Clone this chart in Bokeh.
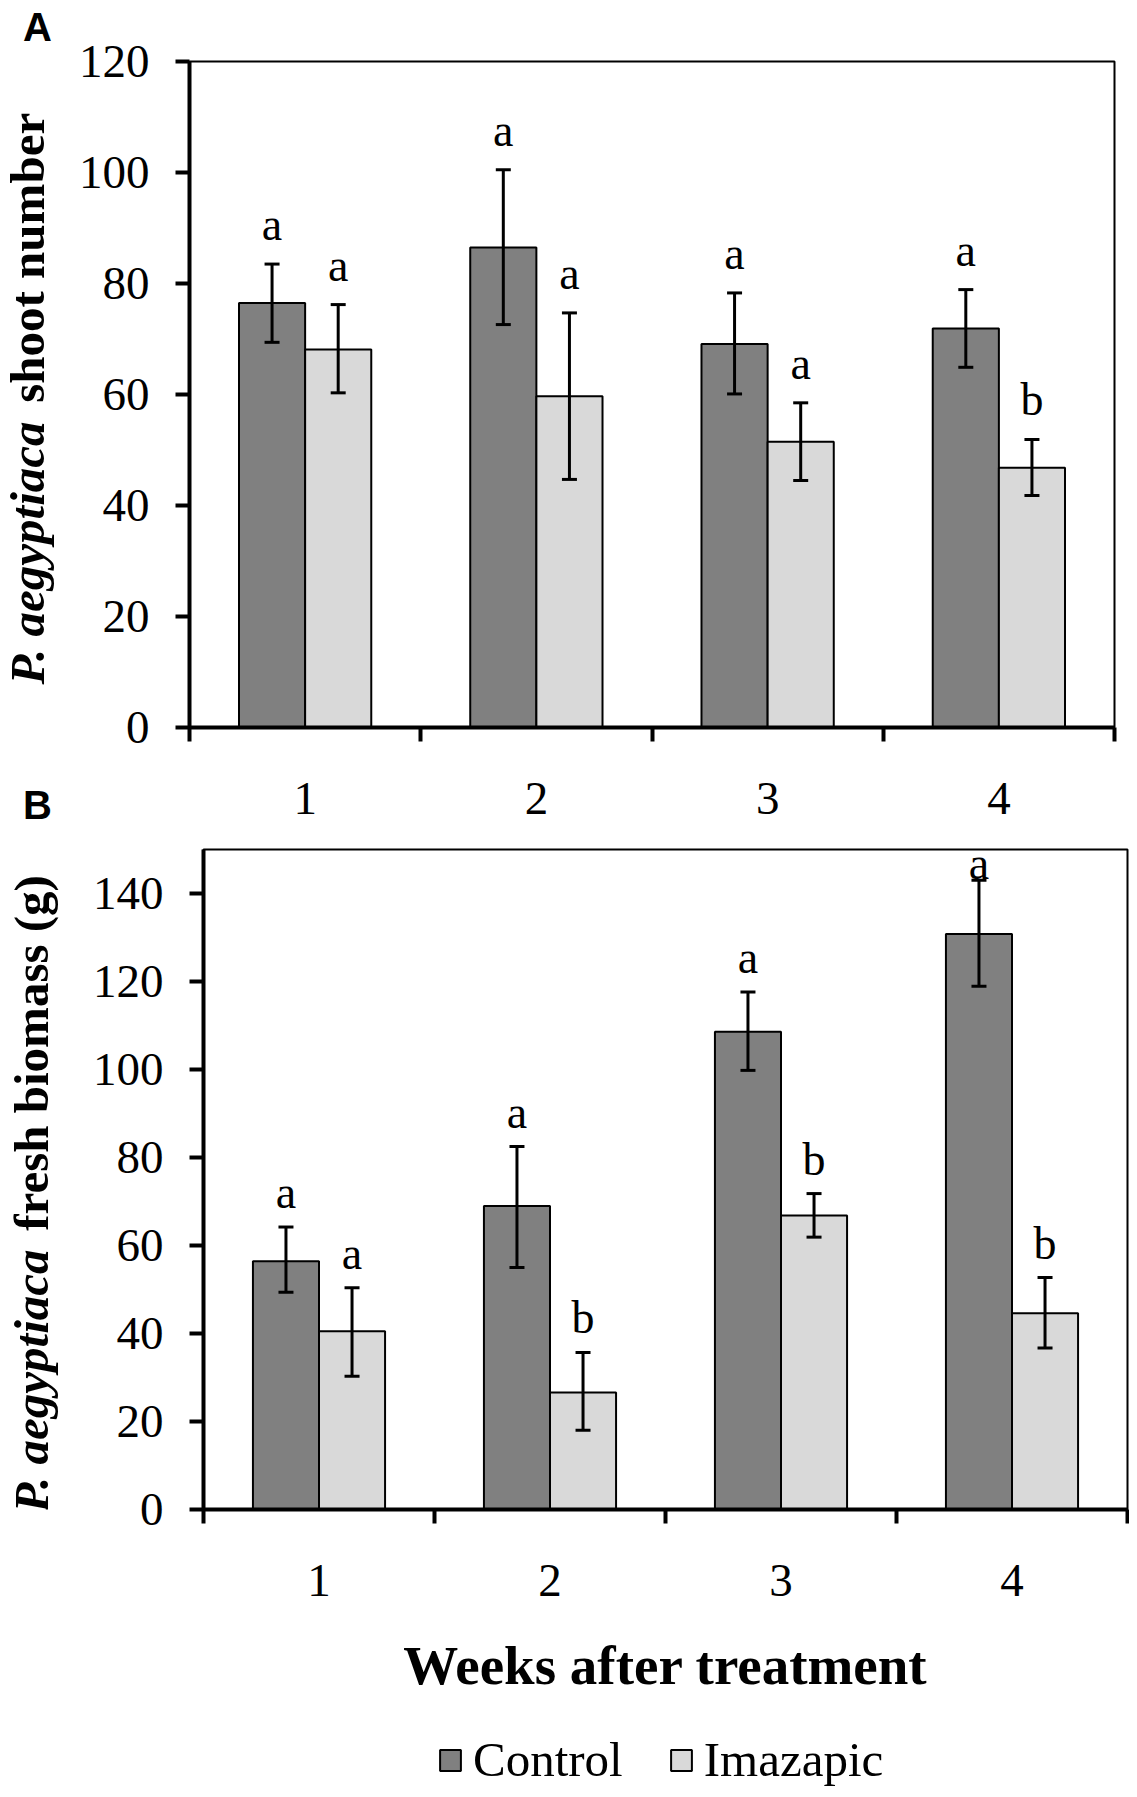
import numpy as np
from bokeh.plotting import figure
from bokeh.models import (ColumnDataSource, Whisker, TeeHead, LabelSet, Label,
                          Legend, LegendItem, FixedTicker, Range1d, LinearAxis)
from bokeh.layouts import column, row
from bokeh.core.properties import value
from bokeh.embed import file_html
from bokeh.resources import INLINE

# ---------------- data ----------------
weeks = [1, 2, 3, 4]
week_labels = ["1", "2", "3", "4"]
series_names = ["Control", "Imazapic"]

# Panel A: shoot number
shoot_control = [76.5, 86.5, 69.1, 71.9]
shoot_control_lo = [69.4, 72.6, 60.1, 64.9]
shoot_control_hi = [83.5, 100.5, 78.3, 78.9]
shoot_imaz = [68.1, 59.7, 51.5, 46.8]
shoot_imaz_lo = [60.3, 44.7, 44.5, 41.8]
shoot_imaz_hi = [76.2, 74.7, 58.5, 51.9]
shoot_letters_control = ["a", "a", "a", "a"]
shoot_letters_imaz = ["a", "a", "a", "b"]

# Panel B: fresh biomass (g)
bio_control = [56.4, 69.0, 108.6, 130.8]
bio_control_lo = [49.4, 55.0, 99.8, 118.9]
bio_control_hi = [64.2, 82.5, 117.6, 143.0]
bio_imaz = [40.5, 26.6, 66.8, 44.6]
bio_imaz_lo = [30.3, 18.0, 61.9, 36.7]
bio_imaz_hi = [50.4, 35.7, 71.8, 52.7]
bio_letters_control = ["a", "a", "a", "a"]
bio_letters_imaz = ["a", "b", "b", "b"]

# ---------------- style ----------------
SERIF = "Liberation Serif"
SANS = "Liberation Sans"
DARK = "#808080"
LIGHT = "#d9d9d9"
BAR_W = 0.286
TOTAL_W = 1129
SIDE_W = 74          # width of the strip holding the y titles
MAIN_W = TOTAL_W - SIDE_W
TITLE_SIZE = 49
# rotated labels are placed with their em-box middle on the anchor
BASELINE_SHIFT = 16.5


def width_em(s, table):
    return sum(table.get(ch, 500) for ch in s) / 1000.0

# Times Bold Italic advance widths (Liberation Serif is metric compatible)
BI = {"P": 611, ".": 250, " ": 250, "a": 500, "e": 444, "g": 500, "y": 444,
      "p": 500, "t": 278, "i": 278, "c": 444}


def blank_fig(w, h):
    f = figure(width=w, height=h, output_backend="svg", toolbar_location=None,
               x_range=Range1d(0, w), y_range=Range1d(0, h), min_border=0,
               x_axis_location=None, y_axis_location=None)
    f.grid.visible = False
    f.outline_line_color = None
    return f


def make_panel(height, bl, br, bt, bb, ymax, yticks, c, clo, chi, im, imlo, imhi,
               lc, li, gap_px):
    p = figure(width=MAIN_W, height=height, output_backend="svg", toolbar_location=None,
               x_range=Range1d(0.5, 4.5), y_range=Range1d(0, ymax),
               min_border_left=bl, min_border_right=br, min_border_top=bt,
               min_border_bottom=bb)
    p.grid.visible = False
    p.outline_line_color = "black"
    p.outline_line_width = 2
    p.background_fill_color = "white"
    p.border_fill_color = "white"

    xc = [w - BAR_W / 2 for w in weeks]
    xi = [w + BAR_W / 2 for w in weeks]
    p.vbar(x=xc, top=c, width=BAR_W, bottom=0, fill_color=DARK,
           line_color="black", line_width=2)
    p.vbar(x=xi, top=im, width=BAR_W, bottom=0, fill_color=LIGHT,
           line_color="black", line_width=2)

    for xs, lo, hi in ((xc, clo, chi), (xi, imlo, imhi)):
        src = ColumnDataSource(dict(x=xs, lo=lo, hi=hi))
        p.add_layout(Whisker(source=src, base="x", lower="lo", upper="hi",
                             line_width=3, line_color="black", level="overlay",
                             upper_head=TeeHead(size=15, line_width=3, line_color="black"),
                             lower_head=TeeHead(size=15, line_width=3, line_color="black")))

    frame_h = height - bt - bb
    ppu = frame_h / ymax
    lx = xc + xi
    lhi = np.array(chi + imhi)
    ly = np.minimum(lhi + gap_px / ppu, ymax - 29 / ppu)
    lsrc = ColumnDataSource(dict(x=lx, y=ly, t=lc + li))
    p.add_layout(LabelSet(source=lsrc, x="x", y="y", text="t", text_align="center",
                          text_baseline="alphabetic", text_font=value(SERIF),
                          text_font_size=value("46px"), text_color="black"))

    # axes
    p.xaxis.ticker = FixedTicker(ticks=weeks, minor_ticks=[0.5, 1.5, 2.5, 3.5, 4.5])
    p.xaxis.major_label_overrides = {w: l for w, l in zip(weeks, week_labels)}
    p.xaxis.major_tick_out = 0
    p.xaxis.major_tick_in = 0
    p.xaxis.minor_tick_out = 14
    p.xaxis.minor_tick_in = 0
    p.xaxis.minor_tick_line_width = 4
    p.xaxis.minor_tick_line_color = "black"
    p.xaxis.axis_line_width = 4
    p.xaxis.axis_line_color = "black"
    p.xaxis.major_label_standoff = 41
    p.yaxis.ticker = FixedTicker(ticks=yticks)
    p.yaxis.major_tick_out = 14
    p.yaxis.major_tick_in = 0
    p.yaxis.minor_tick_out = 0
    p.yaxis.minor_tick_in = 0
    p.yaxis.major_tick_line_width = 4
    p.yaxis.axis_line_width = 4
    p.yaxis.axis_line_color = "black"
    p.yaxis.major_tick_line_color = "black"
    p.yaxis.major_label_standoff = 26
    for ax in (p.xaxis, p.yaxis):
        ax.major_label_text_font = SERIF
        ax.major_label_text_font_size = "47px"
        ax.major_label_text_color = "black"
    return p


def ytitle(f, baseline_x, y, part1, part2, size):
    x = baseline_x - BASELINE_SHIFT
    f.add_layout(Label(x=x, y=y, x_units="screen", y_units="screen", angle=np.pi / 2,
                       text=part1, text_font=SERIF, text_font_size=f"{size}px",
                       text_font_style="bold italic", text_align="left",
                       text_baseline="alphabetic", text_color="black"))
    off = width_em(part1 + " ", BI) * size
    f.add_layout(Label(x=x, y=y + off, x_units="screen", y_units="screen", angle=np.pi / 2,
                       text=part2, text_font=SERIF, text_font_size=f"{size}px",
                       text_font_style="bold", text_align="left",
                       text_baseline="alphabetic", text_color="black"))


def letter_axis(f, side, text, standoff):
    ax = LinearAxis(ticker=FixedTicker(ticks=[]), axis_line_color=None,
                    major_tick_out=0, major_tick_in=0, minor_tick_out=0, minor_tick_in=0,
                    major_label_standoff=0, major_label_text_font_size="0px",
                    axis_label=text, axis_label_standoff=standoff,
                    axis_label_text_font=SANS, axis_label_text_font_size="40px",
                    axis_label_text_font_style="bold", axis_label_text_color="black")
    f.add_layout(ax, side)


# page rows: A 0..835, B 835..1700, legend 1700..1789
HA, HB, HL = 835, 865, 89
A_L, A_R, A_T, A_B = 189, 1114, 61, 727      # frame of panel A (page px)
B_L, B_R, B_T, B_B = 203, 1127, 849, 1509    # frame of panel B (page px)

# ---------------- panel A ----------------
pa = make_panel(HA, A_L - SIDE_W, TOTAL_W - A_R, A_T, HA - A_B, 120,
                [0, 20, 40, 60, 80, 100, 120],
                shoot_control, shoot_control_lo, shoot_control_hi,
                shoot_imaz, shoot_imaz_lo, shoot_imaz_hi,
                shoot_letters_control, shoot_letters_imaz, 24)
ta = blank_fig(SIDE_W, HA)
# the strip's frame is aligned with panel A's frame (A_T..A_B)
ytitle(ta, 43, A_B - 684, "P. aegyptiaca", "shoot number", TITLE_SIZE)
letter_axis(ta, "above", "A", 13)
letter_axis(ta, "below", "B", 55)

# ---------------- panel B ----------------
pb = make_panel(HB, B_L - SIDE_W, TOTAL_W - B_R, B_T - HA, HA + HB - B_B, 150,
                [0, 20, 40, 60, 80, 100, 120, 140],
                bio_control, bio_control_lo, bio_control_hi,
                bio_imaz, bio_imaz_lo, bio_imaz_hi,
                bio_letters_control, bio_letters_imaz, 19)
pb.xaxis.axis_label = "Weeks after treatment"
pb.xaxis.axis_label_text_font = SERIF
pb.xaxis.axis_label_text_font_size = "55px"
pb.xaxis.axis_label_text_font_style = "bold"
pb.xaxis.axis_label_text_color = "black"
pb.xaxis.axis_label_standoff = 36
tb = blank_fig(SIDE_W, HB)
ytitle(tb, 47, B_B - 1512, "P. aegyptiaca", "fresh biomass (g)", TITLE_SIZE)

# ---------------- legend strip ----------------
lf = blank_fig(TOTAL_W, HL)
lr_c = lf.vbar(x=weeks, top=shoot_control, width=BAR_W, fill_color=DARK,
               line_color="black", line_width=2, visible=False)
lr_i = lf.vbar(x=weeks, top=shoot_imaz, width=BAR_W, fill_color=LIGHT,
               line_color="black", line_width=2, visible=False)
legend = Legend(items=[LegendItem(label=series_names[0], renderers=[lr_c]),
                       LegendItem(label=series_names[1], renderers=[lr_i])],
                orientation="horizontal", location=(437, 1),
                glyph_width=26, glyph_height=26, label_standoff=10, spacing=45,
                padding=0, margin=0, border_line_color=None,
                background_fill_alpha=0, inactive_fill_alpha=0,
                label_text_font=SERIF, label_text_font_size="49px",
                label_text_color="black")
lf.add_layout(legend, "center")

layout = column(row(ta, pa, spacing=0), row(tb, pb, spacing=0), lf, spacing=0)
open("out.html", "w").write(file_html(layout, INLINE))
